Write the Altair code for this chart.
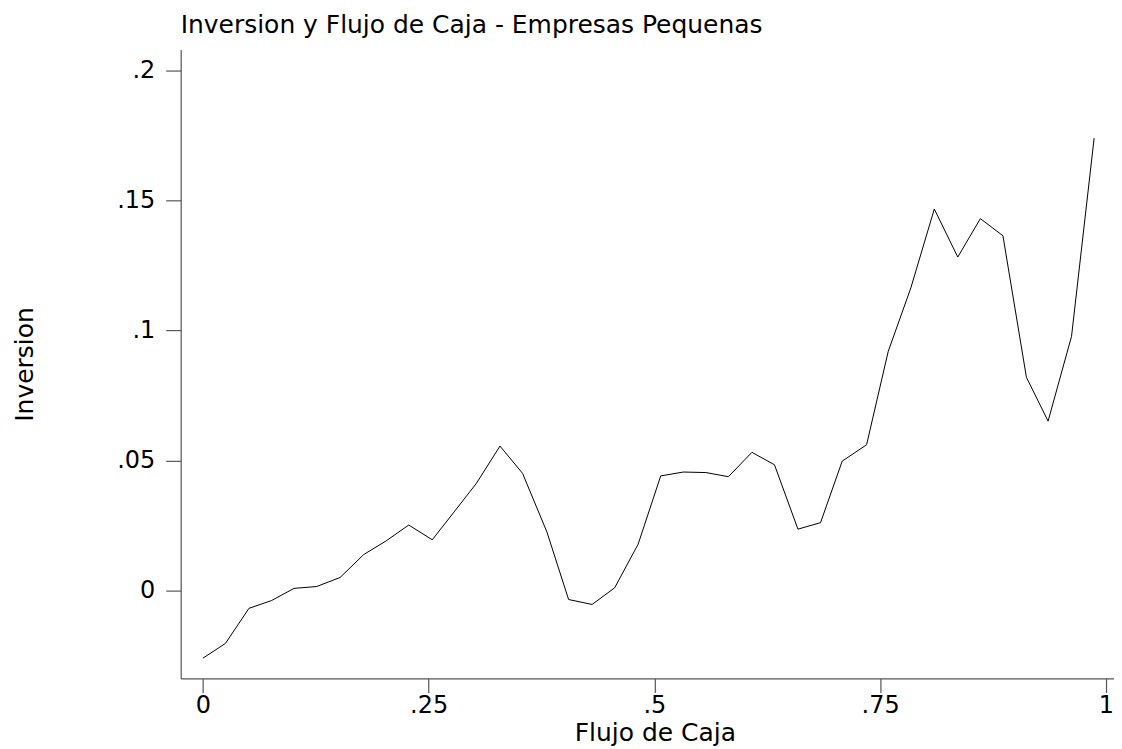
import altair as alt
import pandas as pd

flujo = [0.000, 0.025, 0.051, 0.076, 0.101, 0.126, 0.152, 0.178, 0.203, 0.228,
         0.254, 0.279, 0.303, 0.329, 0.354, 0.381, 0.405, 0.431, 0.456, 0.482,
         0.507, 0.532, 0.557, 0.582, 0.608, 0.633, 0.659, 0.684, 0.708, 0.735,
         0.759, 0.784, 0.810, 0.836, 0.861, 0.886, 0.912, 0.936, 0.962, 0.987]
inversion = [-0.0262, -0.0205, -0.0070, -0.0040, 0.0007, 0.0014, 0.0049, 0.0137, 0.0190, 0.0251,
             0.0194, 0.0305, 0.0412, 0.0555, 0.0450, 0.0224, -0.0036, -0.0055, 0.0009, 0.0177,
             0.0440, 0.0455, 0.0453, 0.0437, 0.0531, 0.0483, 0.0235, 0.0260, 0.0497, 0.0560,
             0.0920, 0.1164, 0.1468, 0.1283, 0.1431, 0.1365, 0.0820, 0.0651, 0.0978, 0.1741]

x_ticks = [0, 0.25, 0.5, 0.75, 1]
y_ticks = [0, 0.05, 0.1, 0.15, 0.2]

df = pd.DataFrame({"Flujo de Caja": flujo, "Inversion": inversion})

FONT = "DejaVu Sans"

chart = alt.Chart(df).mark_line(color="black", strokeWidth=1, clip=False).encode(
    x=alt.X("Flujo de Caja:Q",
            scale=alt.Scale(domain=[-0.0246, 1.009], nice=False, zero=False),
            axis=alt.Axis(values=x_ticks, grid=False, tickSize=14, labelPadding=20,
                          labelBaseline="alphabetic",
                          labelExpr="replace(format(datum.value, '~g'), '0.', '.')",
                          title="Flujo de Caja", titleX=475, titleY=62,
                          titleBaseline="alphabetic")),
    y=alt.Y("Inversion:Q",
            scale=alt.Scale(domain=[-0.034, 0.2082], nice=False, zero=False),
            axis=alt.Axis(values=y_ticks, grid=False, tickSize=15, labelPadding=11,
                          labelExpr="replace(format(datum.value, '~g'), '0.', '.')",
                          title="Inversion", titleX=-148, titleY=315,
                          titleBaseline="alphabetic", titleAngle=270)),
).properties(
    width=935,
    height=630,
    title=alt.TitleParams("Inversion y Flujo de Caja - Empresas Pequenas",
                          anchor="start", frame="group", fontSize=25,
                          fontWeight="normal", font=FONT, color="black",
                          baseline="alphabetic", offset=20, dy=28),
    autosize=alt.AutoSizeParams(type="none"),
    padding={"left": 173, "top": 41, "right": 0, "bottom": 68},
).configure_view(stroke=None).configure_axis(
    labelFont=FONT, titleFont=FONT, labelFontSize=24, titleFontSize=25,
    labelColor="black", titleColor="black", titleFontWeight="normal",
    domainColor="#555555", tickColor="#555555", domainWidth=1.2, tickWidth=1.2,
    labelFlush=False, labelOverlap=False,
)

chart.save("out.html", embed_options={"renderer": "svg", "actions": False})
